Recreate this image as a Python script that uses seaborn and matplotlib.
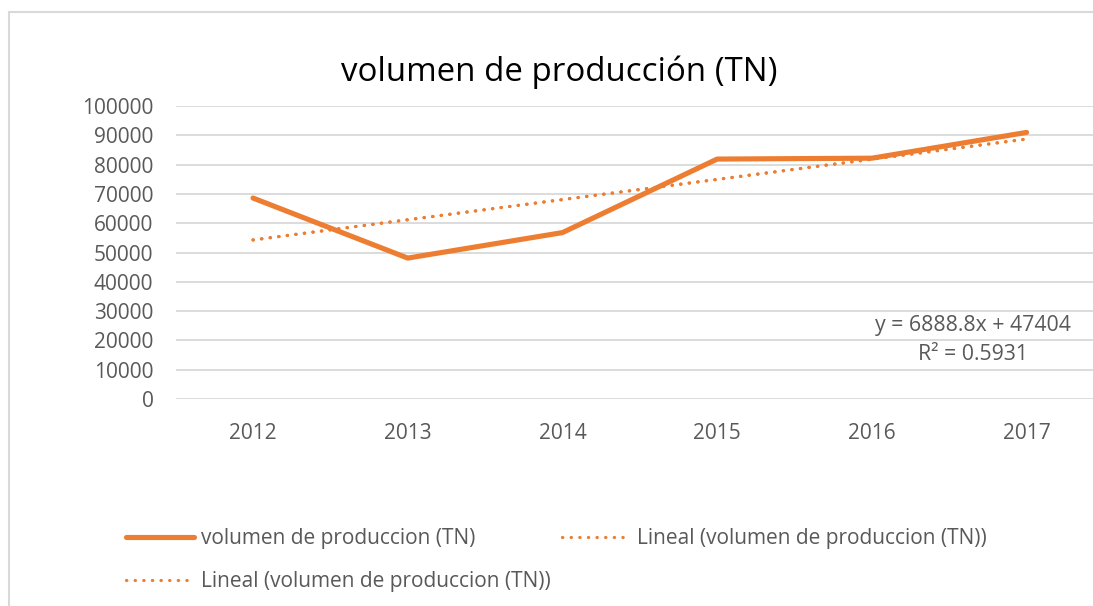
import numpy as np
import pandas as pd
import matplotlib.pyplot as plt
import seaborn as sns
from matplotlib.lines import Line2D

# data
years = ["2012", "2013", "2014", "2015", "2016", "2017"]
volumen = [68600, 48100, 56800, 81900, 82200, 91000]

# trend line coefficients shown on the chart (x = 1..6)
slope = 6888.8
intercept = 47404
r2 = 0.5931

serie = "volumen de produccion (TN)"
tend = "Lineal (volumen de produccion (TN))"

orange = "#ED7D31"
grey_txt = "#595959"
grid_col = "#D9D9D9"

sns.set_style("white")
plt.rcParams["font.family"] = ["Open Sans", "DejaVu Sans"]

df = pd.DataFrame({"pos": np.arange(len(years)), "anio": years, "valor": volumen})
df["tendencia"] = slope * (df["pos"] + 1) + intercept

fig = plt.figure(figsize=(10.93, 6.06), dpi=100)
ax = fig.add_axes([0.1607, 0.3416, 0.8493, 0.4834])

sns.lineplot(data=df, x="pos", y="valor", color=orange, lw=3.7,
             solid_capstyle="round", ax=ax)
for _ in range(2):
    sns.lineplot(data=df, x="pos", y="tendencia", color=orange, lw=2.3,
                 linestyle=(0, (0.1, 2.6)), dash_capstyle="round", ax=ax)

ax.set_xlim(-0.5, len(years) - 0.5)
ax.set_ylim(0, 100000)
ax.set_yticks(np.arange(0, 100001, 10000))
ax.set_xticks(df["pos"])
ax.set_xticklabels(years)
ax.yaxis.grid(True, color=grid_col, lw=1.3)
ax.set_axisbelow(True)
for s in ax.spines.values():
    s.set_visible(False)
ax.tick_params(axis="both", length=0, labelsize=15, labelcolor=grey_txt)
ax.tick_params(axis="x", pad=17)
ax.tick_params(axis="y", pad=16)
ax.set_xlabel("")
ax.set_ylabel("")

# trend line label
fig.text(0.890, 0.439, "y = 6888.8x + 47404\nR² = %.4f" % r2,
         ha="center", va="center", multialignment="center", fontsize=15.3,
         color=grey_txt, linespacing=1.5)

fig.text(0.512, 0.881, "volumen de producción (TN)", ha="center", va="center",
         fontsize=23.8, color="black")

h_serie = Line2D([], [], color=orange, lw=3.7, solid_capstyle="round")
h_tend = Line2D([], [], color=orange, lw=2.3, linestyle=(0, (0.1, 2.6)),
                dash_capstyle="round")
leg = fig.legend([h_serie, h_tend, h_tend], [serie, tend, tend], ncol=2,
                 loc="upper left", bbox_to_anchor=(0.115, 0.128), frameon=False,
                 fontsize=15, handlelength=3.3, handletextpad=0.3,
                 columnspacing=0.55, labelspacing=1.05, borderpad=0,
                 borderaxespad=0)
for t in leg.get_texts():
    t.set_color(grey_txt)

# outer chart frame (left and top edges visible)
fig.add_artist(Line2D([0.0085, 0.0085], [0, 0.98], transform=fig.transFigure,
                      color=grid_col, lw=1.5))
fig.add_artist(Line2D([0.0085, 1], [0.98, 0.98], transform=fig.transFigure,
                      color=grid_col, lw=1.5))

fig.savefig("out.png", dpi=100)
